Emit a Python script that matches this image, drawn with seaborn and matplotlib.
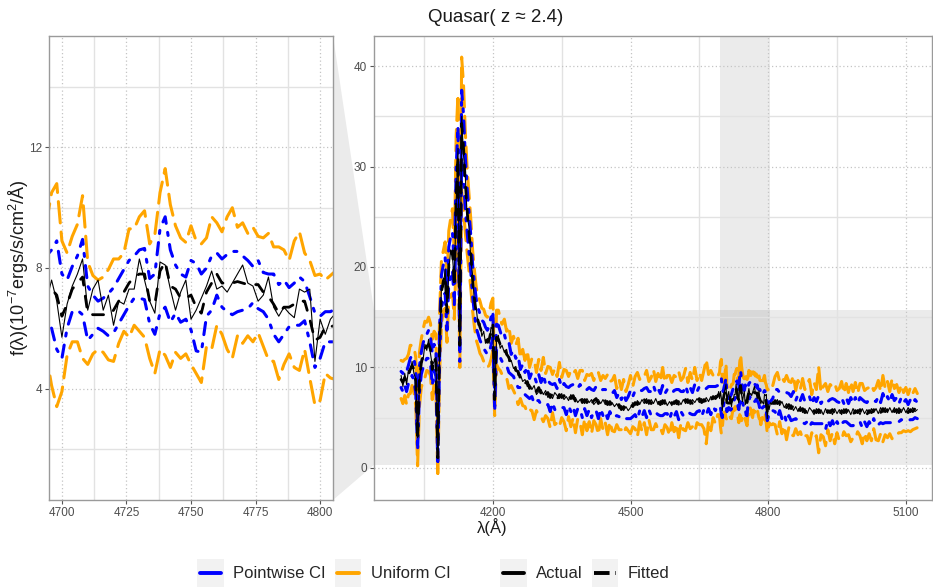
import numpy as np
import pandas as pd
import matplotlib
matplotlib.use('Agg')
import matplotlib.pyplot as plt
import seaborn as sns
from matplotlib.lines import Line2D
from matplotlib.patches import Rectangle, Polygon
from matplotlib.legend_handler import HandlerLine2D
from matplotlib.ticker import MultipleLocator, FixedLocator

sns.set_style('white')
plt.rcParams['font.family'] = ['Liberation Sans', 'DejaVu Sans']
plt.rcParams['mathtext.fontset'] = 'custom'
plt.rcParams['mathtext.rm'] = 'Liberation Sans'
plt.rcParams['mathtext.it'] = 'Liberation Sans:italic'

# wavelength grid (Angstrom): emission peak, continuum, zoom window, red end
lam = [4000, 4004, 4008, 4012, 4016, 4020, 4024, 4028, 4032, 4036, 4040, 4044, 4048, 4052,
       4056, 4060, 4064, 4068, 4072, 4076, 4080, 4084, 4088, 4092, 4096, 4100, 4104, 4108,
       4112, 4116, 4120, 4124, 4128, 4132, 4136, 4140, 4144, 4148, 4152, 4156, 4160, 4164,
       4168, 4172, 4176, 4180, 4184, 4188, 4192, 4196, 4200, 4204, 4208, 4212, 4216, 4220,
       4225, 4230, 4235, 4240, 4245, 4250, 4255, 4260, 4265, 4270,
       4275, 4280, 4285, 4290, 4295, 4300, 4305, 4310, 4315, 4320,
       4325, 4330, 4335, 4340, 4345, 4350, 4355, 4360, 4365, 4370,
       4375, 4380, 4385, 4390, 4395, 4400, 4405, 4410, 4415, 4420,
       4425, 4430, 4435, 4440, 4445, 4450, 4455, 4460, 4465, 4470,
       4475, 4480, 4485, 4490, 4495, 4500, 4505, 4510, 4515, 4520,
       4525, 4530, 4535, 4540, 4545, 4550, 4555, 4560, 4565, 4570,
       4575, 4580, 4585, 4590, 4595, 4600, 4605, 4610, 4615, 4620,
       4625, 4630, 4635, 4640, 4645, 4650, 4655, 4660, 4665, 4670,
       4675, 4680, 4685,
       4690, 4692, 4694, 4696, 4698, 4700, 4702, 4704, 4706, 4708, 4710, 4712, 4714, 4716,
       4718, 4720, 4722, 4724, 4726, 4728, 4730, 4732, 4734, 4736, 4738, 4740, 4742, 4744,
       4746, 4748, 4750, 4752, 4754, 4756, 4758, 4760, 4762, 4764, 4766, 4768, 4770, 4772,
       4774, 4776, 4778, 4780, 4782, 4784, 4786, 4788, 4790, 4792, 4794, 4796, 4798, 4800,
       4802, 4804, 4806, 4808, 4810,
       4815, 4820, 4825, 4830, 4835, 4840, 4845, 4850, 4855, 4860,
       4865, 4870, 4875, 4880, 4885, 4890, 4895, 4900, 4905, 4910,
       4915, 4920, 4925, 4930, 4935, 4940, 4945, 4950, 4955, 4960,
       4965, 4970, 4975, 4980, 4985, 4990, 4995, 5000, 5005, 5010,
       5015, 5020, 5025, 5030, 5035, 5040, 5045, 5050, 5055, 5060,
       5065, 5070, 5075, 5080, 5085, 5090, 5095, 5100, 5105, 5110,
       5115, 5120, 5125]

fitted = [8.8, 8.5, 9.0, 8.6, 9.3, 9.8, 10.2, 9.8, 8.6, 2.7, 8.8, 10.4, 11.2, 11.8,
          12.1, 12.3, 11.8, 9.8, 11.0, 10.5, 1.0, 12.5, 17.5, 18.6, 19.2, 15.5, 20.2, 21.0,
          21.6, 18.0, 27.0, 31.0, 12.2, 34.3, 32.0, 28.4, 25.6, 23.4, 21.3, 18.6, 16.8, 15.3,
          14.6, 14.0, 13.5, 13.2, 12.8, 12.5, 12.8, 13.6, 14.3, 6.8, 13.0, 12.8, 12.3, 11.8,
          11.9, 11.3, 11.0, 10.3, 10.4, 9.7, 9.6, 8.9, 9.0, 8.4,
          8.6, 7.9, 8.3, 7.8, 7.6, 8.0, 7.4, 7.8, 7.3, 7.5,
          7.0, 7.4, 7.1, 6.8, 7.3, 7.0, 7.2, 6.7, 7.1, 6.9,
          7.2, 6.6, 6.9, 7.1, 6.5, 6.8, 6.5, 6.9, 6.4, 6.7,
          6.9, 6.4, 6.8, 6.5, 6.7, 6.3, 6.6, 6.2, 6.4, 6.1,
          6.3, 5.8, 6.1, 5.8, 6.0, 6.3, 6.1, 6.5, 6.3, 6.7,
          6.4, 6.8, 6.5, 6.7, 6.4, 6.8, 6.5, 6.6, 6.3, 6.7,
          6.4, 6.6, 6.2, 6.5, 6.4, 6.7, 6.3, 6.6, 6.4, 6.8,
          6.5, 6.7, 6.4, 6.8, 6.6, 6.9, 6.5, 6.8, 6.6, 7.0,
          6.7, 7.1, 6.9,
          7.2, 7.3, 7.3, 7.3, 7.1, 6.4, 6.8, 7.3, 7.5, 7.7, 6.5, 6.45, 6.45, 6.45,
          6.45, 6.6, 6.9, 7.2, 7.5, 7.7, 7.8, 7.8, 6.9, 6.8, 7.9, 8.2, 7.4, 7.3,
          7.0, 7.0, 7.1, 6.7, 6.5, 7.2, 7.5, 7.8, 7.5, 7.5, 7.5, 7.55, 7.5, 7.45,
          7.45, 7.45, 7.2, 7.05, 6.8, 6.5, 6.7, 6.7, 6.8, 6.9, 6.9, 6.3, 5.6, 5.7,
          6.05, 6.05, 6.1, 6.2, 6.3,
          6.7, 6.4, 6.6, 6.2, 6.4, 6.0, 6.3, 5.9, 6.2, 5.8,
          6.0, 5.7, 5.9, 5.5, 5.8, 5.6, 5.4, 5.7, 5.5, 5.8,
          5.4, 5.6, 5.3, 5.7, 5.5, 5.8, 5.4, 5.6, 5.3, 5.7,
          5.5, 5.8, 5.4, 5.6, 5.3, 5.7, 5.5, 5.8, 5.4, 5.6,
          5.3, 5.7, 5.5, 5.8, 5.4, 5.7, 5.5, 5.9, 5.6, 5.8,
          5.5, 5.9, 5.6, 5.8, 5.5, 5.9, 5.6, 5.8, 5.5, 5.8,
          5.6, 5.9, 5.7]

actual = [9.2, 8.1, 9.4, 8.3, 9.7, 9.5, 10.6, 9.4, 8.9, 3.0, 8.4, 10.9, 10.8, 12.3,
          11.7, 12.8, 11.4, 10.2, 10.6, 11.0, 1.4, 12.0, 18.1, 18.0, 19.8, 16.0, 19.6, 21.7,
          21.0, 18.6, 26.3, 31.8, 12.8, 35.0, 31.2, 29.0, 25.0, 24.0, 20.8, 19.1, 16.3, 15.8,
          14.2, 14.4, 13.1, 13.6, 12.4, 12.9, 12.4, 14.0, 13.8, 7.2, 12.6, 13.2, 11.9, 12.2,
          11.5, 11.8, 10.6, 10.7, 9.9, 10.1, 9.2, 9.3, 8.6, 8.8,
          8.1, 8.3, 7.8, 8.2, 7.3, 7.6, 7.8, 7.3, 7.7, 7.0,
          7.4, 6.9, 7.5, 7.2, 6.9, 7.4, 6.8, 7.1, 6.7, 7.3,
          6.8, 7.0, 6.5, 6.8, 6.9, 6.4, 6.9, 6.5, 6.8, 6.3,
          6.6, 6.8, 6.4, 6.8, 6.3, 6.7, 6.2, 6.5, 6.1, 6.4,
          5.9, 6.2, 5.7, 6.1, 5.7, 6.0, 6.5, 6.2, 6.7, 6.3,
          6.8, 6.4, 6.9, 6.3, 6.8, 6.4, 6.9, 6.3, 6.7, 6.3,
          6.8, 6.2, 6.6, 6.2, 6.7, 6.3, 6.7, 6.3, 6.8, 6.4,
          6.9, 6.3, 6.8, 6.5, 6.9, 6.5, 6.9, 6.5, 7.0, 6.6,
          7.1, 6.8, 7.2,
          7.0, 7.6, 6.9, 7.6, 6.9, 5.7, 6.8, 7.4, 7.8, 8.3, 6.6, 7.3, 7.6, 6.6,
          7.1, 6.1, 6.9, 6.8, 7.3, 7.3, 8.3, 7.6, 6.9, 6.5, 8.2, 8.1, 7.3, 6.6,
          7.2, 7.6, 6.3, 6.6, 7.0, 7.4, 7.9, 7.3, 7.4, 7.2, 7.5, 7.8, 8.1, 7.5,
          7.4, 6.9, 7.1, 7.7, 6.7, 6.4, 6.7, 6.5, 6.35, 7.3, 7.2, 7.3, 4.9, 6.3,
          5.8, 6.3, 6.5, 6.3, 6.6,
          6.3, 6.8, 6.2, 6.6, 6.0, 6.4, 5.8, 6.3, 5.7, 6.1,
          5.6, 6.1, 5.5, 5.9, 5.4, 6.0, 5.7, 5.3, 5.9, 5.4,
          5.8, 5.3, 5.9, 5.4, 5.8, 5.3, 5.9, 5.4, 5.8, 5.3,
          5.9, 5.4, 5.8, 5.3, 5.9, 5.4, 5.8, 5.3, 5.9, 5.4,
          5.8, 5.4, 5.9, 5.5, 5.9, 5.4, 6.0, 5.5, 6.0, 5.5,
          6.0, 5.5, 6.0, 5.4, 6.0, 5.5, 6.0, 5.5, 6.0, 5.5,
          6.0, 5.6, 5.8]

# half widths of the pointwise and uniform confidence bands
pw_half = [0.8, 0.9, 0.8, 1.0, 0.9, 1.1, 1.0, 1.1, 1.2, 1.0, 1.3, 1.1, 1.2, 1.3,
           1.2, 1.4, 1.3, 1.6, 1.3, 1.4, 0.8, 1.5, 1.7, 1.6, 1.8, 1.8, 1.8, 2.0,
           1.9, 1.8, 2.8, 3.0, 1.6, 3.3, 3.2, 2.6, 2.2, 2.0, 1.8, 1.6, 1.5, 1.4,
           1.3, 1.3, 1.2, 1.3, 1.2, 1.2, 1.3, 1.4, 1.3, 1.2, 1.3, 1.4, 1.3, 1.2,
           1.4, 1.1, 1.5, 1.0, 1.3, 1.2, 1.6, 0.9, 1.3, 1.1,
           1.5, 1.0, 1.2, 1.4, 0.9, 1.3, 1.1, 1.5, 1.0, 1.2,
           1.4, 0.9, 1.3, 1.1, 1.5, 1.0, 1.2, 1.4, 0.9, 1.3,
           1.1, 1.4, 1.0, 1.2, 1.5, 0.9, 1.3, 1.1, 1.4, 1.0,
           1.2, 1.5, 0.9, 1.3, 1.1, 1.4, 1.0, 1.2, 1.3, 0.9,
           1.2, 1.0, 1.3, 0.9, 1.1, 1.4, 1.0, 1.2, 1.5, 1.0,
           1.3, 1.1, 1.5, 0.9, 1.2, 1.4, 1.0, 1.3, 1.1, 1.5,
           1.0, 1.2, 1.4, 0.9, 1.3, 1.1, 1.5, 1.0, 1.2, 1.4,
           0.9, 1.3, 1.1, 1.5, 1.0, 1.2, 1.4, 1.0, 1.3, 1.1,
           1.4, 1.0, 1.2,
           1.0, 1.1, 1.1, 1.3, 1.8, 1.4, 0.8, 0.75, 0.9, 1.25, 0.9, 0.65, 0.45, 0.55,
           0.7, 0.75, 0.75, 0.75, 0.75, 0.7, 0.8, 0.85, 0.75, 1.0, 1.4, 1.5, 1.2, 0.8,
           0.8, 0.7, 1.15, 1.45, 1.3, 0.8, 0.9, 0.7, 0.8, 0.95, 1.05, 1.0, 0.9, 0.8,
           0.6, 0.8, 0.65, 0.75, 1.0, 0.95, 0.9, 0.65, 0.7, 0.8, 0.65, 0.75, 0.9, 0.7,
           0.5, 0.5, 0.55, 0.6, 0.6,
           1.1, 1.4, 0.9, 1.3, 1.0, 1.5, 1.1, 1.2, 1.4, 0.9,
           1.3, 1.0, 1.4, 1.1, 1.2, 1.5, 0.9, 1.3, 1.1, 1.4,
           1.0, 1.2, 1.5, 0.9, 1.3, 1.1, 1.4, 1.0, 1.2, 1.3,
           0.9, 1.2, 1.0, 1.4, 1.1, 1.3, 0.9, 1.2, 1.4, 1.0,
           1.2, 1.1, 1.3, 0.9, 1.2, 1.4, 1.0, 1.5, 1.1, 1.3,
           1.0, 1.4, 1.1, 1.2, 0.9, 1.1, 0.9, 1.0, 0.8, 1.0,
           0.8, 0.9, 0.8]

un_half = [1.9, 2.1, 1.8, 2.3, 2.0, 2.4, 2.0, 2.3, 2.4, 2.5, 2.7, 2.4, 2.6, 2.8,
           2.4, 2.7, 2.6, 3.0, 2.6, 2.8, 2.0, 3.0, 3.2, 3.0, 3.3, 3.0, 3.4, 3.8,
           4.2, 3.2, 6.0, 6.2, 2.2, 6.6, 6.2, 5.0, 4.2, 3.8, 3.4, 3.0, 2.8, 2.6,
           2.5, 2.6, 2.4, 2.6, 2.4, 2.5, 2.6, 2.8, 2.6, 1.6, 2.7, 2.9, 2.6, 2.5,
           2.9, 2.3, 3.1, 2.1, 2.7, 2.5, 3.3, 2.0, 2.8, 2.3,
           3.1, 2.1, 2.6, 3.0, 1.9, 2.8, 2.3, 3.2, 2.1, 2.6,
           3.0, 1.9, 2.8, 2.3, 3.2, 2.0, 2.6, 3.0, 2.0, 2.8,
           2.2, 3.1, 2.0, 2.6, 3.2, 1.9, 2.8, 2.3, 3.0, 2.0,
           2.6, 3.1, 1.9, 2.7, 2.2, 3.0, 2.0, 2.5, 2.8, 1.8,
           2.5, 2.0, 2.7, 1.8, 2.3, 2.9, 2.0, 2.6, 3.2, 2.1,
           2.8, 2.3, 3.2, 1.9, 2.6, 3.0, 2.1, 2.8, 2.3, 3.3,
           2.1, 2.6, 3.0, 2.0, 2.8, 2.3, 3.3, 2.1, 2.6, 3.1,
           2.0, 2.8, 2.3, 3.2, 2.1, 2.6, 2.2, 2.9, 4.2, 2.3,
           3.0, 2.1, 2.5,
           1.9, 2.0, 2.2, 3.2, 3.7, 2.5, 1.7, 1.75, 1.95, 2.7, 1.7, 1.3, 1.15, 1.25,
           1.5, 1.7, 1.4, 1.3, 1.8, 1.6, 1.9, 2.1, 1.9, 2.3, 2.6, 3.1, 2.7, 2.1,
           2.0, 1.85, 2.3, 2.2, 2.3, 1.8, 2.2, 1.7, 1.7, 2.2, 2.5, 1.8, 2.0, 1.7,
           1.9, 1.6, 1.8, 2.1, 1.9, 2.2, 1.9, 1.55, 2.1, 2.3, 1.6, 1.95, 2.15, 2.1,
           1.55, 1.7, 1.8, 1.9, 1.9,
           2.4, 3.1, 2.0, 2.8, 2.2, 3.2, 2.3, 2.6, 3.0, 1.9,
           2.7, 2.1, 3.0, 2.3, 2.6, 3.2, 1.9, 2.8, 2.3, 4.3,
           2.1, 2.5, 3.1, 1.9, 2.8, 2.3, 3.0, 2.1, 2.6, 2.9,
           1.9, 2.6, 2.1, 3.0, 2.3, 2.8, 1.9, 2.6, 3.0, 2.1,
           2.6, 2.3, 2.8, 1.9, 2.6, 3.0, 2.1, 3.3, 2.3, 2.8,
           2.1, 3.0, 2.3, 2.5, 2.0, 2.4, 1.9, 2.2, 1.8, 2.2,
           1.8, 2.0, 1.7]

zoom_x = (4695, 4805)
zoom_y = (0.3, 15.7)

df = pd.DataFrame({'lam': lam, 'fitted': fitted, 'actual': actual,
                   'pw_half': pw_half, 'un_half': un_half})
df['pw_lo'] = df['fitted'] - df['pw_half']
df['pw_hi'] = df['fitted'] + df['pw_half']
df['un_lo'] = df['fitted'] - df['un_half']
df['un_hi'] = df['fitted'] + df['un_half']

fig = plt.figure(figsize=(9.33, 5.87), dpi=100)
W, H = 933, 587
ax_l = fig.add_axes([49 / W, 1 - 500 / H, 284 / W, 464 / H])
ax_r = fig.add_axes([374 / W, 1 - 500 / H, 558 / W, 464 / H])

styles = [('un_lo', 'orange', 2.2, (0, (7, 3)), 2.0),
          ('un_hi', 'orange', 2.2, (0, (7, 3)), 2.0),
          ('pw_lo', 'blue', 2.2, (0, (1, 3, 4, 3)), 2.1),
          ('pw_hi', 'blue', 2.2, (0, (1, 3, 4, 3)), 2.1),
          ('actual', 'black', 0.8, '-', 2.2),
          ('fitted', 'black', 2.0, (0, (4, 4)), 2.3)]

for ax in (ax_l, ax_r):
    for col, c, lw, ls, z in styles:
        sns.lineplot(data=df, x='lam', y=col, ax=ax, color=c, linewidth=lw,
                     linestyle=ls, dash_capstyle='round', legend=False,
                     errorbar=None, zorder=z)
    ax.set_xlabel('')
    ax.set_ylabel('')
    ax.set_axisbelow(True)
    ax.grid(which='major', linestyle=(0, (1, 2)), color='#c4c4c4', lw=0.9)
    ax.grid(which='minor', linestyle='-', color='#e2e2e2', lw=1.0)
    ax.tick_params(which='major', length=3, width=0.8, color='#555555',
                   labelsize=8.5, labelcolor='#4d4d4d', pad=2,
                   bottom=True, left=True)
    ax.tick_params(which='minor', length=0)
    for s in ax.spines.values():
        s.set_color('#9a9a9a')
        s.set_linewidth(1.0)

# zoomed panel
ax_l.set_xlim(*zoom_x)
ax_l.set_ylim(*zoom_y)
ax_l.xaxis.set_major_locator(MultipleLocator(25))
ax_l.xaxis.set_minor_locator(MultipleLocator(12.5))
ax_l.yaxis.set_major_locator(FixedLocator([4, 8, 12]))
ax_l.yaxis.set_minor_locator(FixedLocator([2, 6, 10, 14]))

# full spectrum
ax_r.set_xlim(3941, 5157)
ax_r.set_ylim(-3.2, 43.0)
ax_r.xaxis.set_major_locator(FixedLocator([4200, 4500, 4800, 5100]))
ax_r.xaxis.set_minor_locator(FixedLocator([4050, 4350, 4650, 4950]))
ax_r.yaxis.set_major_locator(MultipleLocator(10))
ax_r.yaxis.set_minor_locator(MultipleLocator(5))
ax_r.axhspan(*zoom_y, color='black', alpha=0.08, lw=0, zorder=0.3)
ax_r.axvspan(*zoom_x, color='black', alpha=0.08, lw=0, zorder=0.3)

# wedge linking the zoom window to the zoomed panel
to_fig = fig.transFigure.inverted()
x0 = ax_r.get_xlim()[0]
pts = [ax_l.transAxes.transform((1, 1)), ax_r.transData.transform((x0, zoom_y[1])),
       ax_r.transData.transform((x0, zoom_y[0])), ax_l.transAxes.transform((1, 0))]
pts = to_fig.transform(np.array(pts))
fig.add_artist(Polygon(pts, closed=True, facecolor='#ebebeb', edgecolor='none',
                       transform=fig.transFigure, zorder=0))

fig.text(496 / W, 1 - 18 / H, 'Quasar( z ≈ 2.4)', ha='center', va='center',
         fontsize=13.5, color='#1a1a1a')
fig.text(492 / W, 1 - 527 / H, 'λ(Å)', ha='center', va='center', fontsize=12,
         color='#1a1a1a')
fig.text(19 / W, 1 - 268 / H, 'f(λ)(10$^{-7}$ergs/s/cm$^{2}$/Å)', rotation=90,
         ha='center', va='center', fontsize=13, color='#1a1a1a')


class KeyBg(HandlerLine2D):
    def create_artists(self, legend, orig_handle, xdescent, ydescent, width,
                       height, fontsize, trans):
        h = 1.7 * fontsize
        pad = 0.15 * fontsize
        bg = Rectangle((-xdescent - pad, -ydescent + height / 2 - h / 2),
                       width + 2 * pad, h, facecolor='#f2f2f2', edgecolor='none',
                       transform=trans)
        arts = super().create_artists(legend, orig_handle, xdescent, ydescent,
                                      width, height, fontsize, trans)
        return [bg] + arts


ci_handles = [Line2D([], [], color='blue', lw=2.8),
              Line2D([], [], color='orange', lw=2.8)]
fit_handles = [Line2D([], [], color='black', lw=2.8),
               Line2D([], [], color='black', lw=2.8, linestyle=(0, (4, 1.5)))]
hmap = {h: KeyBg() for h in ci_handles + fit_handles}
leg_kw = dict(ncol=2, frameon=False, fontsize=12, handlelength=1.3,
              handletextpad=0.7, columnspacing=0.7, borderpad=0, loc='center',
              handler_map=hmap)
fig.legend(ci_handles, ['Pointwise CI', 'Uniform CI'],
           bbox_to_anchor=(325 / W, 1 - 574 / H), **leg_kw)
fig.legend(fit_handles, ['Actual', 'Fitted'],
           bbox_to_anchor=(586 / W, 1 - 574 / H), **leg_kw)

fig.savefig('out.png', dpi=100)
